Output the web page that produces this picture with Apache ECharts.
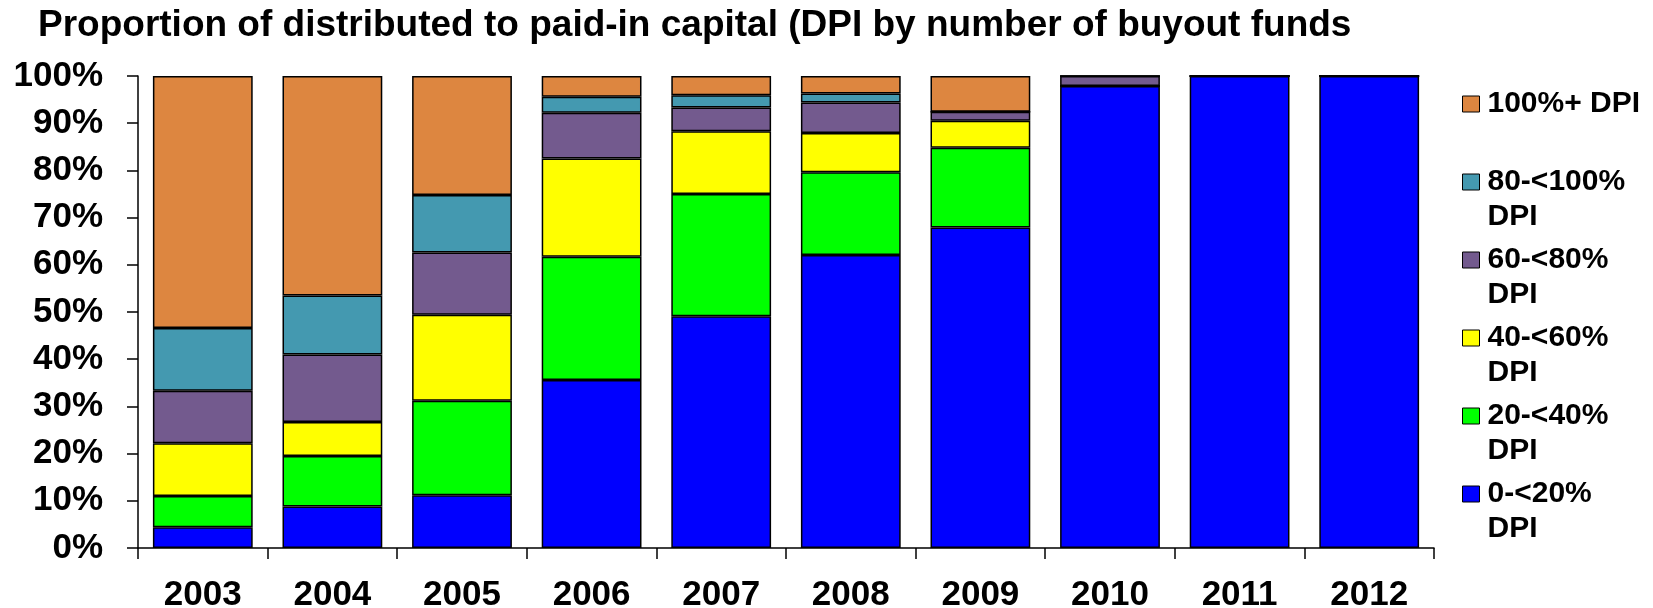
<!DOCTYPE html>
<html>
<head>
<meta charset="utf-8">
<script src="https://cdn.jsdelivr.net/npm/echarts@6/dist/echarts.min.js"></script>
<style>
  html, body { margin: 0; padding: 0; background: #fff; }
  #chart { width: 1653px; height: 608px; }
</style>
</head>
<body>
<div id="chart"></div>
<script>
const years = ['2003', '2004', '2005', '2006', '2007', '2008', '2009', '2010', '2011', '2012'];

// share of funds (%) in each DPI band, bottom to top
const dpi0to20 = [4.4, 8.8, 11.2, 35.6, 49.1, 62.1, 67.9, 97.9, 100, 100];
const dpi20to40 = [6.6, 10.7, 20.0, 26.1, 25.9, 17.5, 16.9, 0, 0, 0];
const dpi40to60 = [11.2, 7.2, 18.2, 20.8, 13.3, 8.3, 5.7, 0, 0, 0];
const dpi60to80 = [11.1, 14.3, 13.2, 9.7, 5.0, 6.5, 1.9, 2.1, 0, 0];
const dpi80to100 = [13.3, 12.5, 12.2, 3.4, 2.6, 1.9, 0, 0, 0, 0];
const dpi100plus = [53.4, 46.5, 25.2, 4.4, 4.1, 3.7, 7.6, 0, 0, 0];

const yTicks = [0, 10, 20, 30, 40, 50, 60, 70, 80, 90, 100];

const FONT = 'Liberation Sans, Arial, sans-serif';

const bands = [
  { name: '0-<20% DPI', data: dpi0to20, color: '#0000FF' },
  { name: '20-<40% DPI', data: dpi20to40, color: '#00FF00' },
  { name: '40-<60% DPI', data: dpi40to60, color: '#FFFF00' },
  { name: '60-<80% DPI', data: dpi60to80, color: '#735A8E' },
  { name: '80-<100% DPI', data: dpi80to100, color: '#4499B0' },
  { name: '100%+ DPI', data: dpi100plus, color: '#DD8640' }
];

// legend text wraps after the range, icon sits on the first line
function legendLabel(name) {
  const lines = name === '100%+ DPI' ? [name, ' '] : name.split(' ');
  return lines.map((l) => '{t|' + l + '}').join('\n');
}

const chart = echarts.init(document.getElementById('chart'));

chart.setOption({
  backgroundColor: '#fff',
  animation: false,
  title: {
    text: 'Proportion of distributed to paid-in capital (DPI by number of buyout funds',
    left: 33,
    top: 2,
    textStyle: { fontFamily: FONT, fontWeight: 'bold', fontSize: 37, color: '#000' }
  },
  legend: {
    orient: 'vertical',
    left: 1457,
    top: 84,
    itemWidth: 17,
    itemHeight: 16,
    itemGap: 13,
    selectedMode: false,
    icon: 'rect',
    data: bands.map((b) => b.name).reverse(),
    formatter: legendLabel,
    textStyle: {
      padding: [35, 0, 0, 3],
      rich: {
        t: {
          fontFamily: FONT,
          fontWeight: 'bold',
          fontSize: 30,
          lineHeight: 35,
          color: '#000'
        }
      }
    },
    itemStyle: { borderColor: '#000', borderWidth: 1 }
  },
  grid: { left: 138, right: 219, top: 76, bottom: 60, containLabel: false, outerBoundsMode: 'none' },
  xAxis: {
    type: 'category',
    data: years,
    axisLine: { lineStyle: { color: '#000', width: 1.5 } },
    axisTick: { show: true, length: 11, lineStyle: { color: '#000', width: 1.5 } },
    axisLabel: { margin: 30, fontFamily: FONT, fontWeight: 'bold', fontSize: 35, color: '#000' }
  },
  yAxis: {
    type: 'value',
    min: yTicks[0],
    max: yTicks[yTicks.length - 1],
    interval: 10,
    axisLine: { show: true, lineStyle: { color: '#000', width: 1.5 } },
    axisTick: { show: true, length: 11, lineStyle: { color: '#000', width: 1.5 } },
    splitLine: { show: false },
    axisLabel: {
      margin: 35,
      formatter: '{value}%',
      fontFamily: FONT,
      fontWeight: 'bold',
      fontSize: 35,
      color: '#000'
    }
  },
  series: bands.map((b) => ({
    name: b.name,
    type: 'bar',
    stack: 'dpi',
    data: b.data,
    barCategoryGap: '23%',
    itemStyle: { color: b.color, borderColor: '#000', borderWidth: 1.5 }
  }))
});
</script>
</body>
</html>
